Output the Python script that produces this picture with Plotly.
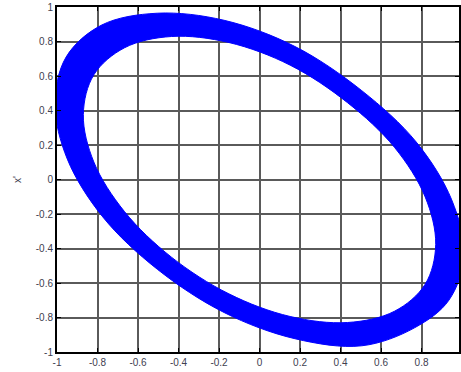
import plotly.graph_objects as go

# Outer boundary of the trajectory band
outer_x = [1.010, 0.935, 0.765, 0.505, 0.175, -0.175, -0.505, -0.774, -0.949,
           -1.010, -0.955, -0.780, -0.505, -0.175, 0.175, 0.505, 0.774, 0.949]
outer_y = [-0.438, -0.700, -0.860, -0.964, -0.923, -0.771, -0.520, -0.217, 0.118,
           0.438, 0.710, 0.895, 0.964, 0.923, 0.771, 0.515, 0.217, -0.118]

# Inner boundary of the band
inner_x = [0.870, 0.818, 0.666, 0.435, 0.151, -0.151, -0.435, -0.666, -0.818,
           -0.870, -0.818, -0.666, -0.435, -0.151, 0.151, 0.435, 0.666, 0.818]
inner_y = [-0.377, -0.607, -0.764, -0.829, -0.794, -0.663, -0.450, -0.187, 0.101,
           0.377, 0.607, 0.764, 0.829, 0.794, 0.663, 0.445, 0.187, -0.101]

x_ticks = [-1, -0.8, -0.6, -0.4, -0.2, 0, 0.2, 0.4, 0.6, 0.8, 1]
x_tick_labels = ["-1", "-0.8", "-0.6", "-0.4", "-0.2", "0", "0.2", "0.4", "0.6", "0.8", "1"]
y_ticks = [-1, -0.8, -0.6, -0.4, -0.2, 0, 0.2, 0.4, 0.6, 0.8, 1]
y_tick_labels = ["-1", "-0.8", "-0.6", "-0.4", "-0.2", "0", "0.2", "0.4", "0.6", "0.8", "1"]
y_title = "x'"

BLUE = "#0000ff"

fig = go.Figure()
fig.add_trace(go.Scatter(
    x=outer_x + outer_x[:1], y=outer_y + outer_y[:1], mode="lines",
    line=dict(color=BLUE, width=1, shape="spline", smoothing=1),
    hoverinfo="skip", showlegend=False))
fig.add_trace(go.Scatter(
    x=inner_x + inner_x[:1], y=inner_y + inner_y[:1], mode="lines",
    line=dict(color=BLUE, width=1, shape="spline", smoothing=1),
    fill="tonext", fillcolor=BLUE,
    hoverinfo="skip", showlegend=False))

tick_font = dict(family="Liberation Sans, Arial, sans-serif", size=10, color="#404050")
axis_common = dict(
    showgrid=True, gridcolor="#5a5a5a", gridwidth=1.5,
    zeroline=False, showline=True, linecolor="black", linewidth=2,
    mirror="ticks", ticks="inside", ticklen=4, tickcolor="black", tickwidth=1,
    tickfont=tick_font,
)

fig.update_layout(
    width=461, height=372,
    margin=dict(l=57, r=0, t=7, b=20),
    paper_bgcolor="white", plot_bgcolor="white",
    xaxis=dict(range=[-1, 0.985], tickvals=x_ticks, ticktext=x_tick_labels, **axis_common),
    yaxis=dict(range=[-1, 1], tickvals=y_ticks, ticktext=y_tick_labels, **axis_common),
    annotations=[dict(
        text=y_title, xref="paper", yref="paper", x=-0.098, y=0.5,
        xanchor="center", yanchor="middle", textangle=-90, showarrow=False,
        font=dict(family="Liberation Sans, Arial, sans-serif", size=10, color="#404050"))],
)

fig.write_html("out.html", config={"displayModeBar": False})
